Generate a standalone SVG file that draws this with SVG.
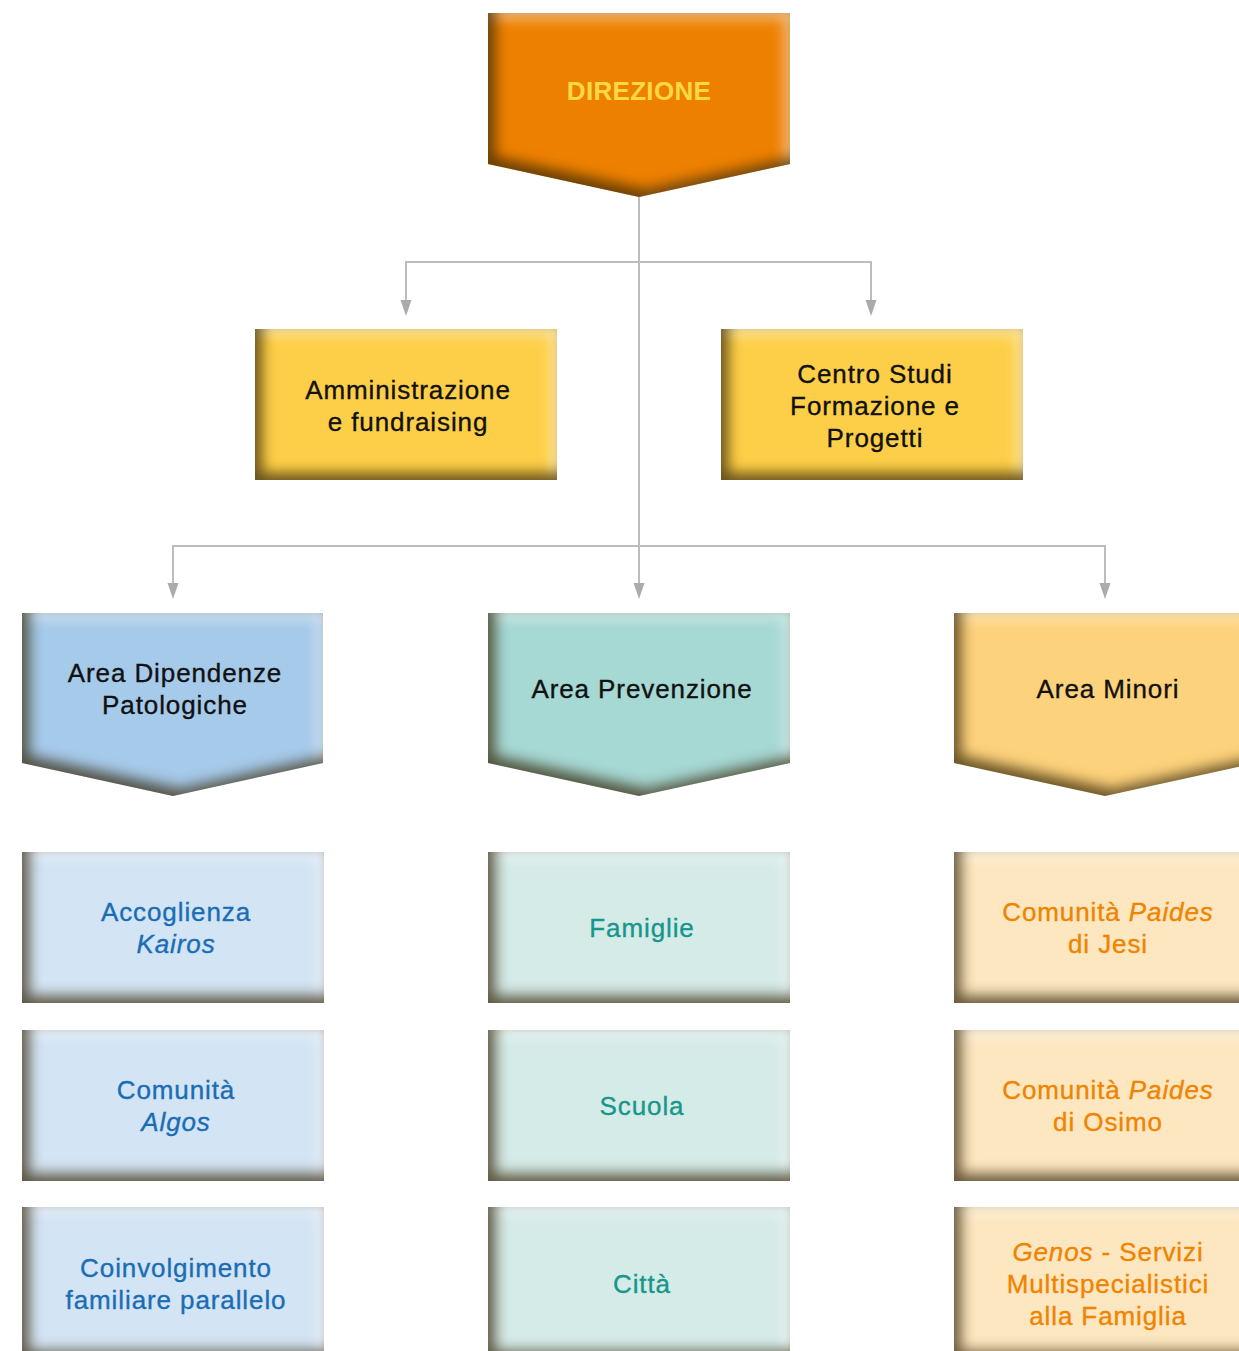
<svg xmlns="http://www.w3.org/2000/svg" width="1239" height="1351" viewBox="0 0 1239 1351">
<defs>
<filter id="bev" x="-20%" y="-25%" width="140%" height="150%" color-interpolation-filters="sRGB">
  <feComponentTransfer in="SourceAlpha" result="inv"><feFuncA type="table" tableValues="1 0"/></feComponentTransfer>
  <feGaussianBlur in="inv" stdDeviation="7" result="blur"/>
  <feOffset in="blur" dx="7" dy="-7" result="offD"/>
  <feFlood flood-color="#2e1e00" flood-opacity="0.72" result="dcol"/>
  <feComposite in="dcol" in2="offD" operator="in" result="dark"/>
  <feComposite in="dark" in2="SourceAlpha" operator="in" result="darkIn"/>
  <feOffset in="blur" dx="-5" dy="5" result="offL"/>
  <feFlood flood-color="#ffffff" flood-opacity="0.55" result="lcol"/>
  <feComposite in="lcol" in2="offL" operator="in" result="light"/>
  <feComposite in="light" in2="SourceAlpha" operator="in" result="lightIn"/>
  <feMerge><feMergeNode in="SourceGraphic"/><feMergeNode in="lightIn"/><feMergeNode in="darkIn"/></feMerge>
</filter>
<marker id="ah" markerUnits="userSpaceOnUse" viewBox="0 0 16 12" refX="6" refY="6" markerWidth="16" markerHeight="12" orient="auto">
  <path d="M0,0.5 L16,6 L0,11.5 Z" fill="#ababab"/>
</marker>
<style>
.sh{filter:url(#bev)}
.t{font-family:"Liberation Sans",Arial,Helvetica,sans-serif;font-size:26px;text-anchor:middle;letter-spacing:0.9px;stroke-width:0.35px}
.k{fill:#111;stroke:#111}
.b{fill:#1a6db5;stroke:#1a6db5}
.g{fill:#17968c;stroke:#17968c}
.o{fill:#f08300;stroke:#f08300}
.it{font-style:italic}
.c{fill:none;stroke:#bdbdbd;stroke-width:2}
</style>
</defs>

<g id="connectors">
  <path class="c" d="M639,197 V589" marker-end="url(#ah)"/>
  <path class="c" d="M639,262 H406 V306" marker-end="url(#ah)"/>
  <path class="c" d="M639,262 H871 V306" marker-end="url(#ah)"/>
  <path class="c" d="M639,546 H173 V589" marker-end="url(#ah)"/>
  <path class="c" d="M639,546 H1105 V589" marker-end="url(#ah)"/>
</g>

<g id="direzione">
  <path class="sh" d="M488,13 H790 V164 L639,197 L488,164 Z" fill="#ee8000"/>
  <text class="t" x="639" y="100" style="font-weight:bold;fill:#fdd845;letter-spacing:0.3px;stroke:none">DIREZIONE</text>
</g>

<g id="amministrazione">
  <rect class="sh" x="255" y="329" width="302" height="151" fill="#fdcf48"/>
  <text class="t k" x="408" y="399">Amministrazione</text>
  <text class="t k" x="408" y="431">e fundraising</text>
</g>

<g id="centro-studi">
  <rect class="sh" x="721" y="329" width="302" height="151" fill="#fdcf48"/>
  <text class="t k" x="875" y="383">Centro Studi</text>
  <text class="t k" x="875" y="415">Formazione e</text>
  <text class="t k" x="875" y="447">Progetti</text>
</g>

<g id="area-dipendenze">
  <path class="sh" d="M22,613 H323 V763 L173,796 L22,763 Z" fill="#a6caea"/>
  <text class="t k" x="175" y="682">Area Dipendenze</text>
  <text class="t k" x="175" y="714">Patologiche</text>
</g>

<g id="area-prevenzione">
  <path class="sh" d="M488,613 H790 V763 L639,796 L488,763 Z" fill="#a6d8d4"/>
  <text class="t k" x="642" y="698">Area Prevenzione</text>
</g>

<g id="area-minori">
  <path class="sh" d="M954,613 H1256 V763 L1105,796 L954,763 Z" fill="#fdd27c"/>
  <text class="t k" x="1108" y="698">Area Minori</text>
</g>

<g id="accoglienza-kairos">
  <rect class="sh" x="22" y="852" width="302" height="151" fill="#d3e4f4"/>
  <text class="t b" x="176" y="921">Accoglienza</text>
  <text class="t b it" x="176" y="953">Kairos</text>
</g>

<g id="comunita-algos">
  <rect class="sh" x="22" y="1030" width="302" height="151" fill="#d3e4f4"/>
  <text class="t b" x="176" y="1099">Comunità</text>
  <text class="t b it" x="176" y="1131">Algos</text>
</g>

<g id="coinvolgimento">
  <rect class="sh" x="22" y="1207" width="302" height="151" fill="#d3e4f4"/>
  <text class="t b" x="176" y="1277">Coinvolgimento</text>
  <text class="t b" x="176" y="1309">familiare parallelo</text>
</g>

<g id="famiglie">
  <rect class="sh" x="488" y="852" width="302" height="151" fill="#d5ebe8"/>
  <text class="t g" x="642" y="937">Famiglie</text>
</g>

<g id="scuola">
  <rect class="sh" x="488" y="1030" width="302" height="151" fill="#d5ebe8"/>
  <text class="t g" x="642" y="1115">Scuola</text>
</g>

<g id="citta">
  <rect class="sh" x="488" y="1207" width="302" height="151" fill="#d5ebe8"/>
  <text class="t g" x="642" y="1293">Città</text>
</g>

<g id="paides-jesi">
  <rect class="sh" x="954" y="852" width="302" height="151" fill="#fde7c0"/>
  <text class="t o" x="1108" y="921">Comunità <tspan class="it">Paides</tspan></text>
  <text class="t o" x="1108" y="953">di Jesi</text>
</g>

<g id="paides-osimo">
  <rect class="sh" x="954" y="1030" width="302" height="151" fill="#fde7c0"/>
  <text class="t o" x="1108" y="1099">Comunità <tspan class="it">Paides</tspan></text>
  <text class="t o" x="1108" y="1131">di Osimo</text>
</g>

<g id="genos">
  <rect class="sh" x="954" y="1207" width="302" height="151" fill="#fde7c0"/>
  <text class="t o" x="1108" y="1261"><tspan class="it">Genos</tspan> - Servizi</text>
  <text class="t o" x="1108" y="1293">Multispecialistici</text>
  <text class="t o" x="1108" y="1325">alla Famiglia</text>
</g>
</svg>
